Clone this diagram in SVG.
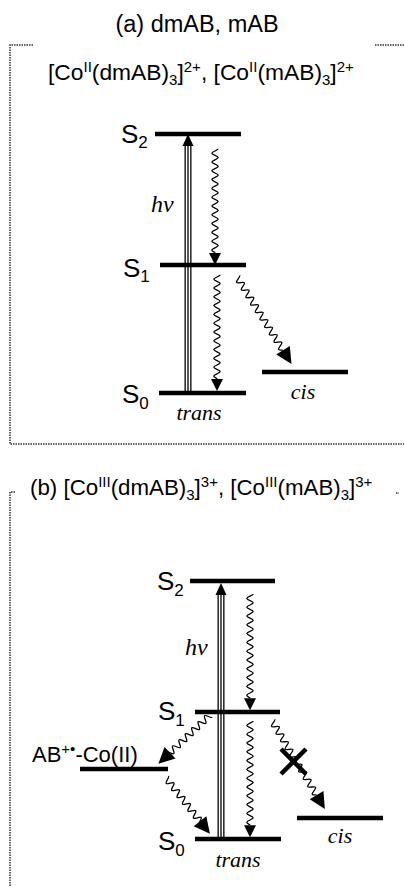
<svg xmlns="http://www.w3.org/2000/svg" width="404" height="886" viewBox="0 0 404 886">
<style>
.t{font-family:"Liberation Sans",Arial,sans-serif;font-size:23.5px;fill:#000}
.ta{font-size:22.8px}
.tb{font-size:22.3px}
.sm{font-size:15px}
.s{font-family:"Liberation Sans",Arial,sans-serif;font-size:26px;fill:#000}
.sub{font-size:17px}
.i{font-family:"Liberation Serif","Times New Roman",serif;font-style:italic;font-size:22px;fill:#000}
.hv{font-size:24px}
.lv{stroke:#000;stroke-width:4.3}
.wv{fill:none;stroke:#000;stroke-width:1.3}
.bd{fill:none;stroke:#333;stroke-width:1.5;stroke-dasharray:1.5 1}
.o{stroke:#000;stroke-width:7}
.w{stroke:#fff;stroke-width:4.4}
.c{stroke:#000;stroke-width:1.3}
</style>
<defs>
<path id="w11" d="M3.2,0 c0,1.76 -6.4,2.64 -6.4,4.4 s6.4,2.64 6.4,4.4 s-6.4,2.64 -6.4,4.4 s6.4,2.64 6.4,4.4 s-6.4,2.64 -6.4,4.4 s6.4,2.64 6.4,4.4 s-6.4,2.64 -6.4,4.4 s6.4,2.64 6.4,4.4 s-6.4,2.64 -6.4,4.4 s6.4,2.64 6.4,4.4 s-6.4,2.64 -6.4,4.4 s6.4,2.64 6.4,4.4 s-6.4,2.64 -6.4,4.4 s6.4,2.64 6.4,4.4 s-6.4,2.64 -6.4,4.4 s6.4,2.64 6.4,4.4 s-6.4,2.64 -6.4,4.4 s6.4,2.64 6.4,4.4 s-6.4,2.64 -6.4,4.4 s6.4,2.64 6.4,4.4 s-6.4,2.64 -6.4,4.4 s6.4,2.64 6.4,4.4 s-6.4,2.64 -6.4,4.4 c0,1.76 3.2,1.84 3.2,3"/>
<path id="w9" d="M3.2,0 c0,1.76 -6.4,2.64 -6.4,4.4 s6.4,2.64 6.4,4.4 s-6.4,2.64 -6.4,4.4 s6.4,2.64 6.4,4.4 s-6.4,2.64 -6.4,4.4 s6.4,2.64 6.4,4.4 s-6.4,2.64 -6.4,4.4 s6.4,2.64 6.4,4.4 s-6.4,2.64 -6.4,4.4 s6.4,2.64 6.4,4.4 s-6.4,2.64 -6.4,4.4 s6.4,2.64 6.4,4.4 s-6.4,2.64 -6.4,4.4 s6.4,2.64 6.4,4.4 s-6.4,2.64 -6.4,4.4 s6.4,2.64 6.4,4.4 s-6.4,2.64 -6.4,4.4 s6.4,2.64 6.4,4.4 s-6.4,2.64 -6.4,4.4 c0,1.76 3.2,1.84 3.2,3"/>
<path id="w6" d="M3.2,0 c0,1.76 -6.4,2.64 -6.4,4.4 s6.4,2.64 6.4,4.4 s-6.4,2.64 -6.4,4.4 s6.4,2.64 6.4,4.4 s-6.4,2.64 -6.4,4.4 s6.4,2.64 6.4,4.4 s-6.4,2.64 -6.4,4.4 s6.4,2.64 6.4,4.4 s-6.4,2.64 -6.4,4.4 s6.4,2.64 6.4,4.4 s-6.4,2.64 -6.4,4.4 s6.4,2.64 6.4,4.4 s-6.4,2.64 -6.4,4.4 c0,1.76 3.2,1.84 3.2,3"/>
<polygon id="hs" points="-6,0 6,0 0,12"/>
<polygon id="hb" points="-8,0 8,0 0,16"/>
</defs>

<!-- frames -->
<g id="frames">
<path class="bd" d="M33,45 H10 V444 H404 M375,45 H404"/>
<path class="bd" d="M15,492 H10 V886 M396,493 H399"/>
</g>

<!-- titles -->
<g id="title-a">
<text class="t" x="197" y="32" text-anchor="middle">(a) dmAB, mAB</text>
<text class="t ta" x="48" y="80">[Co<tspan class="sm" dy="-8">II</tspan><tspan dy="8">(dmAB)</tspan><tspan class="sm" dy="5">3</tspan><tspan dy="-5">]</tspan><tspan class="sm" dy="-8">2+</tspan><tspan dy="8">, [Co</tspan><tspan class="sm" dy="-8">II</tspan><tspan dy="8">(mAB)</tspan><tspan class="sm" dy="5">3</tspan><tspan dy="-5">]</tspan><tspan class="sm" dy="-8">2+</tspan></text>
</g>
<g id="title-b">
<text class="t tb" x="30" y="495">(b) [Co<tspan class="sm" dy="-8">III</tspan><tspan dy="8">(dmAB)</tspan><tspan class="sm" dy="5">3</tspan><tspan dy="-5">]</tspan><tspan class="sm" dy="-8">3+</tspan><tspan dy="8">, [Co</tspan><tspan class="sm" dy="-8">III</tspan><tspan dy="8">(mAB)</tspan><tspan class="sm" dy="5">3</tspan><tspan dy="-5">]</tspan><tspan class="sm" dy="-8">3+</tspan></text>
</g>

<!-- connectors -->
<g id="connectors">
<g id="a-exc">
<line class="o" x1="188" y1="145" x2="188" y2="393"/>
<line class="w" x1="188" y1="145" x2="188" y2="391"/>
<line class="c" x1="188" y1="145" x2="188" y2="393"/>
<polygon points="182.5,146 193.5,146 188,134"/>
<text class="i hv" x="151" y="212">hν</text>
</g>
<g id="a-S2S1" transform="translate(215,148.8)"><use href="#w11" class="wv"/><use href="#hs" y="104.2"/></g>
<g id="a-S1S0" transform="translate(217,274.8)"><use href="#w11" class="wv"/><use href="#hs" y="104.2"/></g>
<g id="a-S1cis" transform="translate(237,277) rotate(-32.1)"><use href="#w9" class="wv"/><use href="#hb" y="86.6"/></g>

<g id="b-exc">
<line class="o" x1="221" y1="594" x2="221" y2="839"/>
<line class="w" x1="221" y1="594" x2="221" y2="837"/>
<line class="c" x1="221" y1="594" x2="221" y2="839"/>
<polygon points="215.5,595 226.5,595 221,583"/>
<text class="i hv" x="185" y="655">hν</text>
</g>
<g id="b-S2S1" transform="translate(250,594)"><use href="#w11" class="wv"/><use href="#hs" y="104.2"/></g>
<g id="b-S1S0" transform="translate(250,721)"><use href="#w11" class="wv"/><use href="#hs" y="104.2"/></g>
<g id="b-S1AB" transform="translate(210,715) rotate(46.6)"><use href="#w6" class="wv"/><use href="#hb" y="55"/></g>
<g id="b-ABS0" transform="translate(166,778) rotate(-38.2)"><use href="#w6" class="wv"/><use href="#hb" y="55"/></g>
<g id="b-S1cis" transform="translate(272,721) rotate(-31)"><use href="#w9" class="wv"/><use href="#hb" y="86.6"/></g>
<path id="b-block" d="M281,749 L306,774 M306,749 L281,774" stroke="#000" stroke-width="4.5"/>
</g>

<!-- nodes (a) -->
<g id="a-S2"><line class="lv" x1="155" y1="134" x2="241" y2="134"/><text class="s" x="121" y="143">S<tspan class="sub" dy="5">2</tspan></text></g>
<g id="a-S1"><line class="lv" x1="160" y1="265" x2="246" y2="265"/><text class="s" x="123" y="277">S<tspan class="sub" dy="5">1</tspan></text></g>
<g id="a-S0"><line class="lv" x1="159" y1="393" x2="246" y2="393"/><text class="s" x="122" y="403">S<tspan class="sub" dy="6">0</tspan></text><text class="i" x="199" y="420" text-anchor="middle">trans</text></g>
<g id="a-cis"><line class="lv" x1="262" y1="372" x2="348" y2="372"/><text class="i" x="303" y="399" text-anchor="middle">cis</text></g>

<!-- nodes (b) -->
<g id="b-S2"><line class="lv" x1="190" y1="581" x2="275" y2="581"/><text class="s" x="157" y="590">S<tspan class="sub" dy="6">2</tspan></text></g>
<g id="b-S1"><line class="lv" x1="195" y1="712" x2="280" y2="712"/><text class="s" x="158" y="720">S<tspan class="sub" dy="6">1</tspan></text></g>
<g id="b-S0"><line class="lv" x1="195" y1="839" x2="281" y2="839"/><text class="s" x="158" y="850">S<tspan class="sub" dy="6">0</tspan></text><text class="i" x="238" y="867" text-anchor="middle">trans</text></g>
<g id="b-AB"><line class="lv" x1="80" y1="769" x2="168" y2="769"/><text class="t" x="32" y="762" style="font-size:22px">AB<tspan class="sm" dy="-8">+•</tspan><tspan dy="8">-Co(II)</tspan></text></g>
<g id="b-cis"><line class="lv" x1="297" y1="818" x2="383" y2="818"/><text class="i" x="340" y="843" text-anchor="middle">cis</text></g>
</svg>
